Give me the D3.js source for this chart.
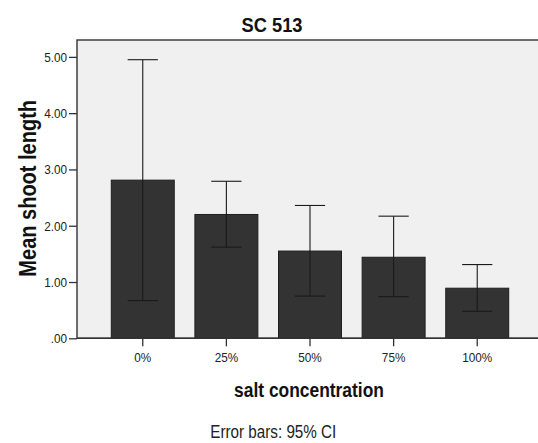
<!DOCTYPE html>
<html>
<head>
<meta charset="utf-8">
<script src="https://cdn.jsdelivr.net/npm/d3@7/dist/d3.min.js"></script>
<style>
  html, body { margin: 0; padding: 0; background: #fff; }
  svg { display: block; }
</style>
</head>
<body>
<svg id="chart" width="538" height="443"></svg>
<script>
// ---- data ----
const categories = ["0%", "25%", "50%", "75%", "100%"];
const meanValues = [2.81, 2.20, 1.55, 1.44, 0.89];
const ciUpper = [4.95, 2.79, 2.36, 2.17, 1.31];
const ciLower = [0.67, 1.62, 0.75, 0.74, 0.48];
const yTickValues = [0, 1, 2, 3, 4, 5];
const chartTitle = "SC 513";
const xTitle = "salt concentration";
const yTitle = "Mean shoot length";
const footnote = "Error bars: 95% CI";

// ---- layout ----
const plot = { left: 77, right: 543, top: 40, bottom: 338.3 };
const K = 0.87; // horizontal condensation of glyphs
const FONT = "'Liberation Sans', Arial, sans-serif";

const svg = d3.select("#chart");

const x = d3.scaleBand()
  .domain(categories)
  .range([plot.left, plot.right])
  .paddingInner(0.247)
  .paddingOuter(0.41);

const y = d3.scaleLinear()
  .domain([0, 5.3])
  .range([plot.bottom, plot.top]);

// plot background
svg.append("rect")
  .attr("x", plot.left).attr("y", plot.top)
  .attr("width", plot.right - plot.left)
  .attr("height", plot.bottom - plot.top)
  .attr("fill", "#f0f0f0")
  .attr("stroke", "#333")
  .attr("stroke-width", 1.4);

// bars
const data = categories.map((c, i) => ({ c, m: meanValues[i], hi: ciUpper[i], lo: ciLower[i] }));

svg.append("g").selectAll("rect")
  .data(data).join("rect")
  .attr("x", d => x(d.c))
  .attr("y", d => y(d.m))
  .attr("width", x.bandwidth())
  .attr("height", d => y(0) - y(d.m))
  .attr("fill", "#333333")
  .attr("stroke", "#1e1e1e")
  .attr("stroke-width", 1);

// error bars
const capHalf = x.bandwidth() * 0.24;
const cx = d => x(d.c) + x.bandwidth() / 2;
const eb = svg.append("g").attr("stroke", "#1a1a1a").attr("stroke-width", 1.1);
eb.selectAll("line.v").data(data).join("line")
  .attr("class", "v")
  .attr("x1", cx).attr("x2", cx)
  .attr("y1", d => y(d.lo)).attr("y2", d => y(d.hi));
eb.selectAll("line.t").data(data).join("line")
  .attr("class", "t")
  .attr("x1", d => cx(d) - capHalf).attr("x2", d => cx(d) + capHalf)
  .attr("y1", d => y(d.hi)).attr("y2", d => y(d.hi));
eb.selectAll("line.b").data(data).join("line")
  .attr("class", "b")
  .attr("x1", d => cx(d) - capHalf).attr("x2", d => cx(d) + capHalf)
  .attr("y1", d => y(d.lo)).attr("y2", d => y(d.lo));

// axes
const fmt = v => { const s = d3.format(".2f")(v); return s.startsWith("0.") ? s.slice(1) : s; };

const yAxis = svg.append("g")
  .attr("transform", `translate(${plot.left},0)`)
  .call(d3.axisLeft(y).tickValues(yTickValues).tickFormat(fmt).tickSize(8).tickPadding(2));
yAxis.select(".domain").remove();
yAxis.selectAll(".tick text")
  .attr("x", null)
  .attr("transform", `translate(-10,0) scale(${K},1)`);

const xAxis = svg.append("g")
  .attr("transform", `translate(0,${plot.bottom})`)
  .call(d3.axisBottom(x).tickSize(8).tickPadding(6));
xAxis.select(".domain").remove();
xAxis.selectAll(".tick text")
  .attr("transform", `scale(${K},1)`);

svg.selectAll(".tick line").attr("stroke", "#333").attr("stroke-width", 1.3);
svg.selectAll(".tick text")
  .attr("fill", "#222")
  .style("font-family", FONT)
  .style("font-size", "13.5px");

// bottom axis line
svg.append("line")
  .attr("x1", plot.left).attr("x2", plot.right)
  .attr("y1", plot.bottom).attr("y2", plot.bottom)
  .attr("stroke", "#333").attr("stroke-width", 1.5);

// text helper: condensed text anchored at (tx, ty)
function label(tx, ty, str, size, bold, rotate) {
  svg.append("text")
    .attr("transform", `translate(${tx},${ty})${rotate ? " rotate(-90)" : ""} scale(${K},1)`)
    .attr("text-anchor", "middle")
    .style("font-family", FONT)
    .style("font-weight", bold ? "bold" : "normal")
    .style("font-size", size + "px")
    .attr("fill", bold ? "#111" : "#222")
    .text(str);
}

label(272, 32, chartTitle, 21, true, false);
label(309, 397, xTitle, 20, true, false);
label(36, 188.3, yTitle, 23, true, true);
label(273.3, 437.5, footnote, 17.5, false, false);
</script>
</body>
</html>
